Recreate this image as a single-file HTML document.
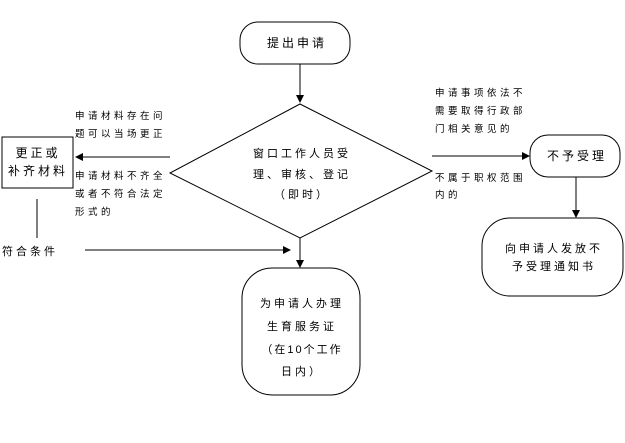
<!DOCTYPE html>
<html><head><meta charset="utf-8"><style>
body{margin:0;background:#fff}
text{font-family:"Liberation Sans","Noto Sans CJK SC",sans-serif;fill:#000}
</style></head><body>
<svg width="625" height="438" xmlns="http://www.w3.org/2000/svg">
<defs><marker id="a" markerWidth="8" markerHeight="8" refX="7" refY="4" orient="auto" markerUnits="userSpaceOnUse"><path d="M0,0 L8,4 L0,8 z" fill="#000"/></marker></defs>
<g stroke="#000" stroke-width="1" fill="none">
<rect x="240" y="22" width="110" height="42" rx="18"/>
<line x1="300" y1="64" x2="300" y2="102" marker-end="url(#a)"/>
<polygon points="300,104 432,171 300,238 170,173" fill="#fff"/>
<rect x="2" y="137" width="71" height="51"/>
<line x1="170" y1="157" x2="76" y2="157" marker-end="url(#a)"/>
<line x1="37" y1="199" x2="37" y2="238"/>
<line x1="85" y1="250" x2="290" y2="250" marker-end="url(#a)"/>
<line x1="300" y1="238" x2="300" y2="267" marker-end="url(#a)"/>
<rect x="242" y="268" width="118" height="127" rx="30"/>
<line x1="432" y1="156" x2="529" y2="156" marker-end="url(#a)"/>
<rect x="530" y="135" width="90" height="42" rx="18"/>
<line x1="576" y1="177" x2="576" y2="217" marker-end="url(#a)"/>
<rect x="482" y="218" width="141" height="78" rx="28"/>
</g>
<g font-size="11" text-anchor="middle" letter-spacing="3">
<text x="297" y="47" font-size="12">提出申请</text>
<text x="302" y="157">窗口工作人员受</text>
<text x="302" y="178">理、审核、登记</text>
<text x="302" y="198">（即时）</text>
<text x="38" y="157" font-size="12">更正或</text>
<text x="38" y="175" font-size="12">补齐材料</text>
<text x="577" y="160" font-size="12">不予受理</text>
<text x="554" y="252">向申请人发放不</text>
<text x="554" y="270">予受理通知书</text>
<text x="302" y="307">为申请人办理</text>
<text x="302" y="330">生育服务证</text>
<text x="302" y="353" letter-spacing="2">（在10个工作</text>
<text x="302" y="375">日内）</text>
</g>
<g font-size="9.5" letter-spacing="3.5">
<text x="75" y="119">申请材料存在问</text>
<text x="75" y="137">题可以当场更正</text>
<text x="75" y="179">申请材料不齐全</text>
<text x="75" y="197">或者不符合法定</text>
<text x="75" y="215">形式的</text>
<text x="2" y="255" font-size="11" letter-spacing="3">符合条件</text>
<text x="435" y="96">申请事项依法不</text>
<text x="435" y="114">需要取得行政部</text>
<text x="435" y="132">门相关意见的</text>
<text x="435" y="181">不属于职权范围</text>
<text x="435" y="198">内的</text>
</g>
</svg>
</body></html>
